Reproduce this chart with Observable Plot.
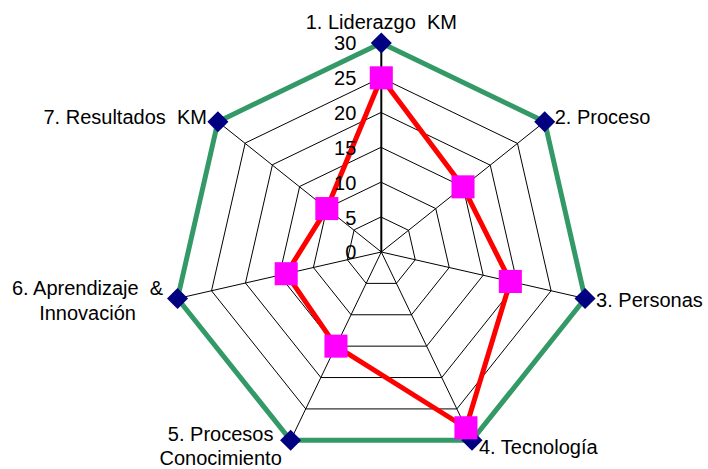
<!DOCTYPE html>
<html>
<head>
<meta charset="utf-8">
<script src="https://cdn.jsdelivr.net/npm/d3@7"></script>
<script src="https://cdn.jsdelivr.net/npm/@observablehq/plot@0.6"></script>
<style>
  html, body { margin: 0; padding: 0; background: #ffffff; }
  #chart { width: 708px; height: 469px; }
</style>
</head>
<body>
<div id="chart"></div>
<script>
// ---- data ----
const categories = [
  "1. Liderazgo  KM",
  "2. Proceso",
  "3. Personas",
  "4. Tecnología",
  "5. Procesos\nConocimiento",
  "6. Aprendizaje  &\nInnovación",
  "7. Resultados  KM"
];
const targetValues = [30, 30, 30, 30, 30, 30, 30];
const actualValues = [25, 15, 19, 28, 15, 14, 10];
const tickValues = [0, 5, 10, 15, 20, 25, 30];
const maxValue = 30;

// ---- geometry helpers (polar -> data coords) ----
const n = categories.length;
const ang = i => (i * 2 * Math.PI) / n;
const px = (v, i) => v * Math.sin(ang(i));
const py = (v, i) => v * Math.cos(ang(i));

const W = 708, H = 469;
const cx = 380.8, cy = 251.5, R = 209;
const k = R / maxValue; // px per unit

const rings = [];
tickValues.filter(t => t > 0).forEach(t => {
  categories.forEach((c, i) => rings.push({ ring: t, x: px(t, i), y: py(t, i) }));
});
const spokes = categories.map((c, i) => ({ i, x2: px(maxValue, i), y2: py(maxValue, i) }));
const targetPts = targetValues.map((v, i) => ({ x: px(v, i), y: py(v, i), c: categories[i] }));
const actualPts = actualValues.map((v, i) => ({ x: px(v, i), y: py(v, i), c: categories[i] }));
const tickPts = tickValues.map(t => ({ t, x: 0, y: t }));
const labelPts = categories.map((c, i) => ({ c, x: px(maxValue, i), y: py(maxValue, i) }));

const font = "'Liberation Sans', Arial, sans-serif";
// per-label placement: [textAnchor, dx, dy]
const labelStyle = [
  ["middle", 0, -22],
  ["start", 10, -6],
  ["start", 11, 1],
  ["start", 7, 6],
  ["middle", -70, 5],
  ["middle", -90, 1],
  ["end", -11, -6]
];

const labelMarks = labelStyle.map(([anchor, dx, dy], i) =>
  Plot.text([labelPts[i]], {
    x: "x", y: "y", text: "c",
    textAnchor: anchor, dx, dy,
    fontSize: 20, fontFamily: font, fill: "#000000",
    lineHeight: 1.22
  })
);

const chart = Plot.plot({
  width: W,
  height: H,
  margin: 0,
  style: { background: "#ffffff", fontFamily: font },
  x: { type: "linear", domain: [-cx / k, (W - cx) / k], range: [0, W], axis: null },
  y: { type: "linear", domain: [-(H - cy) / k, cy / k], range: [H, 0], axis: null },
  marks: [
    Plot.line(rings, { x: "x", y: "y", z: "ring", curve: "linear-closed", stroke: "#000000", strokeWidth: 1 }),
    Plot.link(spokes, { x1: 0, y1: 0, x2: "x2", y2: "y2", stroke: "#000000", strokeWidth: d => d.i === 0 ? 2 : 1 }),
    Plot.line(targetPts, { x: "x", y: "y", curve: "linear-closed", stroke: "#339966", strokeWidth: 5, strokeLinejoin: "round" }),
    Plot.line(actualPts, { x: "x", y: "y", curve: "linear-closed", stroke: "#ff0000", strokeWidth: 5, strokeLinejoin: "round" }),
    Plot.dot(targetPts, { x: "x", y: "y", symbol: "diamond2", r: 9.5, fill: "#000080", stroke: "none" }),
    Plot.dot(actualPts, { x: "x", y: "y", symbol: "square", r: 13, fill: "#ff00ff", stroke: "none" }),
    Plot.text(tickPts, { x: "x", y: "y", text: d => String(d.t), textAnchor: "end", dx: -25, dy: 1, fontSize: 20, fontFamily: font, fill: "#000000" }),
    ...labelMarks
  ]
});
document.getElementById("chart").appendChild(chart);
</script>
</body>
</html>
